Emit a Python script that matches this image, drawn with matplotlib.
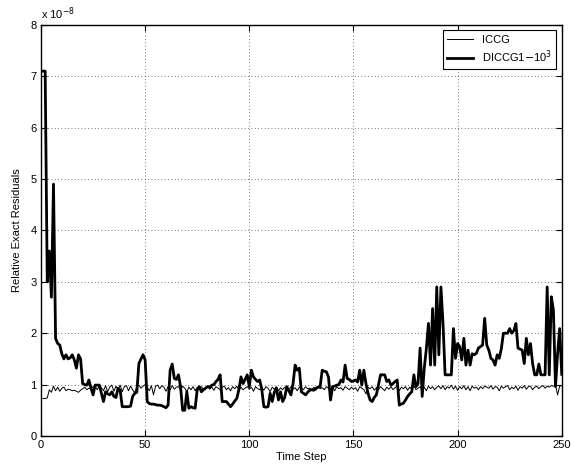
import numpy as np
import matplotlib
matplotlib.use("Agg")
import matplotlib.pyplot as plt
from matplotlib.ticker import FuncFormatter, MultipleLocator

plt.rcParams['font.family'] = ['Liberation Sans', 'DejaVu Sans']

# residual values, in units of 1e-8
SCALE = 1e-8

diccg = [
    7.1, 7.1, 3.0, 3.6, 2.7, 4.9, 1.9, 1.8, 1.77, 1.6,
    1.5, 1.58, 1.5, 1.52, 1.58, 1.48, 1.32, 1.58, 1.5, 1.02,
    1.0, 0.99, 1.09, 0.93, 0.8, 0.99, 0.99, 0.99, 0.83, 0.67,
    0.86, 0.82, 0.8, 0.86, 0.77, 0.75, 0.93, 0.89, 0.57, 0.57,
    0.57, 0.57, 0.58, 0.77, 0.83, 0.85, 1.41, 1.5, 1.58, 1.48,
    0.67, 0.63, 0.62, 0.62, 0.61, 0.6, 0.6, 0.59, 0.57, 0.55,
    0.6, 1.28, 1.4, 1.12, 1.1, 1.19, 0.96, 0.5, 0.5, 0.86,
    0.54, 0.57, 0.55, 0.54, 0.9, 0.96, 0.86, 0.9, 0.93, 0.96,
    0.95, 0.99, 1.0, 1.06, 1.1, 1.19, 0.67, 0.67, 0.67, 0.62,
    0.57, 0.62, 0.68, 0.73, 0.9, 1.15, 1.02, 1.1, 1.19, 0.96,
    1.28, 1.15, 1.1, 1.06, 1.09, 0.9, 0.57, 0.56, 0.57, 0.83,
    0.67, 0.85, 0.93, 0.7, 0.86, 0.67, 0.75, 0.96, 0.88, 0.8,
    1.02, 1.38, 1.28, 1.32, 0.86, 0.83, 0.8, 0.85, 0.89, 0.9,
    0.89, 0.93, 0.95, 0.96, 1.28, 1.26, 1.25, 1.15, 0.7, 0.96,
    0.97, 0.99, 1.0, 1.09, 1.05, 1.38, 1.12, 1.1, 1.06, 1.07,
    1.09, 1.05, 1.28, 0.99, 1.28, 1.02, 0.83, 0.7, 0.67, 0.75,
    0.8, 1.0, 1.19, 1.19, 1.19, 1.06, 1.09, 0.99, 1.02, 1.06,
    1.09, 0.6, 0.62, 0.64, 0.7, 0.77, 0.82, 0.86, 1.19, 0.96,
    1.02, 1.71, 0.77, 1.32, 1.7, 2.19, 1.38, 2.48, 1.38, 2.9,
    1.58, 2.9, 2.19, 1.19, 1.19, 1.19, 1.19, 2.09, 1.51, 1.8,
    1.74, 1.48, 1.9, 1.38, 1.67, 1.38, 1.6, 1.58, 1.61, 1.71,
    1.74, 1.77, 2.29, 1.77, 1.67, 1.51, 1.48, 1.38, 1.58, 1.51,
    1.7, 2.0, 2.0, 2.0, 2.09, 2.0, 2.05, 2.19, 1.71, 1.69,
    1.67, 1.41, 1.9, 1.58, 1.8, 1.41, 1.19, 1.19, 1.4, 1.19,
    1.19, 1.19, 2.9, 1.19, 2.71, 2.45, 0.96, 1.6, 2.09, 1.2,
]

iccg = [
    0.73, 0.73, 0.74, 0.9, 0.85, 0.97, 0.88, 0.95, 0.87, 0.93,
    0.95, 0.88, 0.91, 0.9, 0.88, 0.89, 0.87, 0.85, 0.89, 0.92,
    0.95, 0.9, 0.93, 0.92, 0.96, 0.97, 0.9, 0.97, 0.94, 0.88,
    0.98, 0.86, 0.95, 0.99, 0.87, 0.97, 0.9, 0.99, 0.86, 0.96,
    0.98, 0.88, 0.97, 0.9, 0.84, 0.96, 0.99, 0.93, 0.97, 1.0,
    0.95, 0.88, 0.98, 0.8, 0.97, 0.99, 0.92, 0.98, 0.95, 0.87,
    0.96, 0.9, 0.98, 0.91, 0.95, 0.96, 0.89, 0.97, 0.93, 0.86,
    0.95, 0.9, 0.96, 0.88, 0.95, 0.92, 0.96, 0.9, 0.94, 0.97,
    0.91, 0.95, 0.89, 0.96, 0.93, 0.9, 0.95, 0.97, 0.9, 0.94,
    0.88, 0.96, 0.92, 0.97, 0.89, 0.95, 0.9, 0.93, 0.96, 0.91,
    0.95, 0.87, 0.96, 0.92, 0.9, 0.95, 0.89, 0.96, 0.93, 0.86,
    0.95, 0.91, 0.96, 0.88, 0.94, 0.9, 0.95, 0.92, 0.89, 0.96,
    0.91, 0.94, 0.88, 0.95, 0.93, 0.9, 0.96, 0.92, 0.93, 0.9,
    0.95, 0.89, 0.96, 0.92, 0.94, 0.9, 0.96, 0.93, 0.91, 0.95,
    0.88, 0.96, 0.92, 0.94, 0.89, 0.96, 0.93, 0.9, 0.95, 0.91,
    0.94, 0.87, 0.96, 0.93, 0.9, 0.82, 0.95, 0.92, 0.96, 0.89,
    0.94, 0.9, 0.96, 0.92, 0.88, 0.95, 0.91, 0.96, 0.9, 0.94,
    0.97, 0.88, 0.95, 0.92, 0.96, 0.89, 0.95, 0.91, 0.98, 0.9,
    0.93, 0.96, 0.89, 0.95, 0.88, 0.97, 0.92, 0.96, 0.9, 0.95,
    0.97, 0.92, 0.98, 0.9, 0.96, 0.93, 0.99, 0.91, 0.97, 0.89,
    0.96, 0.92, 0.98, 0.9, 0.96, 0.88, 0.97, 0.93, 0.95, 0.9,
    0.96, 0.92, 0.97, 0.95, 0.93, 0.98, 0.91, 0.96, 0.95, 0.88,
    0.97, 0.93, 0.96, 0.98, 0.9, 0.95, 0.92, 0.97, 0.89, 0.96,
    0.93, 0.98, 0.91, 0.96, 0.97, 0.9, 0.95, 0.97, 0.92, 0.96,
    0.98, 0.93, 0.97, 0.95, 0.98, 0.97, 0.99, 0.8, 0.97, 0.98,
]

steps = np.arange(1, len(diccg) + 1)

x_ticks = [0, 50, 100, 150, 200, 250]
y_ticks = [0, 1, 2, 3, 4, 5, 6, 7, 8]

fig = plt.figure(figsize=(5.71, 4.72), dpi=100)
ax = fig.add_axes([0.0718, 0.0763, 0.912, 0.871])

ax.plot(steps, np.array(iccg) * SCALE, color='black', lw=0.7, label='ICCG')
ax.plot(steps, np.array(diccg) * SCALE, color='black', lw=2.0,
        label='DICCG1$-$10$^3$')

ax.set_xlim(0, 250)
ax.set_ylim(0, 8 * SCALE)
ax.set_xticks(x_ticks)
ax.set_yticks([v * SCALE for v in y_ticks])
ax.yaxis.set_major_formatter(FuncFormatter(lambda v, _: f"{v / SCALE:g}"))

ax.tick_params(direction='in', top=True, right=True, length=4, width=0.8,
               labelsize=8, pad=3)
for s in ax.spines.values():
    s.set_linewidth(1.0)

ax.grid(True, linestyle=(0, (1, 3)), color='black', linewidth=0.6, alpha=0.7)

ax.set_xlabel('Time Step', fontsize=8, labelpad=1)
ax.set_ylabel('Relative Exact Residuals', fontsize=8, labelpad=6)

ax.text(0.0, 1.008, 'x 10$^{-8}$', transform=ax.transAxes, fontsize=8,
        ha='left', va='bottom')

leg = ax.legend(loc='upper right', fontsize=8, fancybox=False,
                edgecolor='black', framealpha=1, handlelength=2.3,
                borderaxespad=0.5, borderpad=0.4, labelspacing=0.3)
leg.get_frame().set_linewidth(0.8)

fig.savefig('out.png', dpi=100)
